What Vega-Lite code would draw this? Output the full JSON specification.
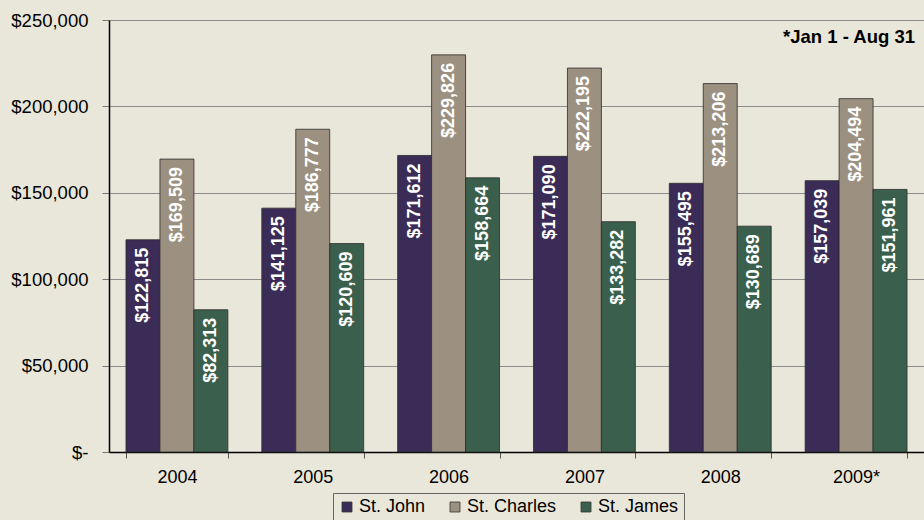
{
  "$schema": "https://vega.github.io/schema/vega-lite/v6.json",
  "width": 815,
  "height": 432,
  "autosize": {"type": "none"},
  "padding": {"left": 109, "top": 20, "right": 0, "bottom": 68},
  "background": "#E9E7DA",
  "config": {
    "font": "Liberation Sans",
    "view": {"stroke": null},
    "axis": {"labelFont": "Liberation Sans", "labelColor": "#000000", "labelFontSize": 18}
  },
  "data": {
    "values": [
      {"year": "2004", "series": "St. John", "value": 122815},
      {"year": "2004", "series": "St. Charles", "value": 169509},
      {"year": "2004", "series": "St. James", "value": 82313},
      {"year": "2005", "series": "St. John", "value": 141125},
      {"year": "2005", "series": "St. Charles", "value": 186777},
      {"year": "2005", "series": "St. James", "value": 120609},
      {"year": "2006", "series": "St. John", "value": 171612},
      {"year": "2006", "series": "St. Charles", "value": 229826},
      {"year": "2006", "series": "St. James", "value": 158664},
      {"year": "2007", "series": "St. John", "value": 171090},
      {"year": "2007", "series": "St. Charles", "value": 222195},
      {"year": "2007", "series": "St. James", "value": 133282},
      {"year": "2008", "series": "St. John", "value": 155495},
      {"year": "2008", "series": "St. Charles", "value": 213206},
      {"year": "2008", "series": "St. James", "value": 130689},
      {"year": "2009*", "series": "St. John", "value": 157039},
      {"year": "2009*", "series": "St. Charles", "value": 204494},
      {"year": "2009*", "series": "St. James", "value": 151961}
    ]
  },
  "encoding": {
    "x": {
      "field": "year", "type": "nominal", "sort": null,
      "scale": {"paddingInner": 0.25, "paddingOuter": 0.125},
      "axis": {
        "title": null, "labelAngle": 0, "domainColor": "#000000", "domainWidth": 1.5,
        "tickColor": "#555555", "tickSize": 6, "tickBand": "extent", "labelPadding": 10, "grid": false
      }
    },
    "y": {
      "field": "value", "type": "quantitative",
      "scale": {"domain": [0, 250000], "nice": false},
      "axis": {
        "title": null, "values": [0, 50000, 100000, 150000, 200000, 250000],
        "labelExpr": "datum.value == 0 ? '$-' : '$' + format(datum.value, ',')",
        "labelFontSize": 18.5,
        "domainColor": "#000000", "domainWidth": 1.5, "tickColor": "#777777", "tickSize": 7,
        "labelPadding": 14, "gridColor": "#8C8C8C", "gridWidth": 1
      }
    },
    "xOffset": {
      "field": "series", "type": "nominal",
      "scale": {"domain": ["St. John", "St. Charles", "St. James"], "paddingInner": 0, "paddingOuter": 0}
    }
  },
  "layer": [
    {
      "mark": {"type": "bar", "stroke": "#2b2b2b", "strokeWidth": 0.8},
      "encoding": {
        "color": {
          "field": "series", "type": "nominal",
          "scale": {"domain": ["St. John", "St. Charles", "St. James"], "range": ["#3B2C57", "#9C9181", "#3A5F4C"]},
          "legend": {
            "title": null, "orient": "none", "direction": "horizontal",
            "legendX": 224, "legendY": 473,
            "strokeColor": "#666666", "padding": 5,
            "labelFontSize": 18, "labelFont": "Liberation Sans", "labelColor": "#000000",
            "symbolType": "square", "symbolSize": 100, "symbolStrokeColor": "#333333", "symbolStrokeWidth": 0.8,
            "symbolOpacity": 1, "columnPadding": 20, "labelOffset": 3
          }
        }
      }
    },
    {
      "mark": {"type": "text", "angle": 270, "align": "right", "baseline": "middle", "dx": -8, "color": "#FFFFFF", "fontWeight": "bold", "fontSize": 18, "font": "Liberation Sans"},
      "encoding": {
        "text": {"field": "value", "type": "quantitative", "format": "$,"}
      }
    },
    {
      "data": {"values": [{"note": "*Jan 1 - Aug 31", "year": "2009*", "value": 240000}]},
      "mark": {"type": "text", "align": "right", "baseline": "middle", "dx": 8, "fontWeight": "bold", "fontSize": 18.5, "font": "Liberation Sans", "color": "#000000"},
      "encoding": {
        "x": {"field": "year", "type": "nominal", "bandPosition": 1},
        "y": {"field": "value", "type": "quantitative"},
        "xOffset": null,
        "text": {"field": "note"}
      }
    }
  ]
}
